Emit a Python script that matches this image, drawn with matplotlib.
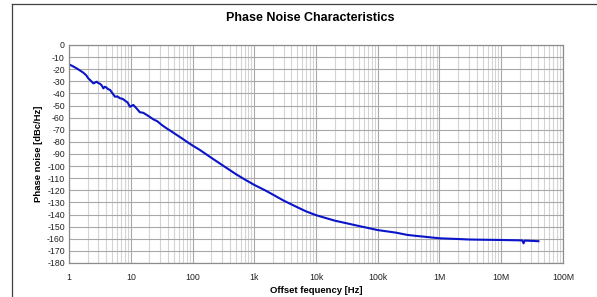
import numpy as np
import matplotlib
matplotlib.use("Agg")
import matplotlib.pyplot as plt
from matplotlib.lines import Line2D
from matplotlib.ticker import FixedLocator, LogLocator, NullFormatter

plt.rcParams['font.family'] = ['Liberation Sans', 'DejaVu Sans']

# offset frequency [Hz] and phase noise [dBc/Hz]
freq = [1, 1.15, 1.33, 1.5, 1.7, 1.9, 2.05, 2.25, 2.48, 2.65, 2.8, 3.0, 3.18, 3.4,
        3.6, 3.8, 4.0, 4.3, 4.6, 5.0, 5.55, 6.1, 6.7, 7.4, 8.1, 8.9, 9.7, 11, 12.5,
        14, 16, 18.2, 20.5, 23.2, 27, 31.7, 38, 46, 55.6, 67, 80.6, 100, 132,
        200, 300, 500, 700, 1e3, 1.5e3, 2e3, 3e3, 5e3, 7e3, 1e4, 2e4, 5e4, 1e5,
        2e5, 3e5, 4.5e5, 5e5, 1e6, 2e6, 3e6, 5e6, 1e7, 2e7, 2.2e7, 2.3e7, 2.4e7,
        3e7, 4e7]
noise = [-16, -17.5, -19.3, -21, -22.8, -25, -27.5, -29.5, -31.7, -31, -30.3, -31.5,
         -32, -33.5, -35.8, -34.5, -35, -36.5, -37, -39.5, -42.7, -42.5, -44, -44.5,
         -46, -47.5, -51, -49.5, -52.5, -55.5, -56, -57.8, -59.5, -61.4, -63, -66,
         -68.8, -71.5, -74.3, -77, -79.8, -83, -86.7,
         -93, -99, -106.5, -111, -115.5, -120, -123.5, -128.5, -134, -137.5, -140.5,
         -145, -149.5, -152.8, -155, -156.8, -157.8, -158, -159.6, -160.2, -160.6,
         -160.8, -161, -161.3, -161.4, -163.8, -161.5, -161.7, -162]

ytick_vals = list(range(0, -190, -10))
xtick_vals = [1, 10, 100, 1e3, 1e4, 1e5, 1e6, 1e7, 1e8]
xtick_labels = ['1', '10', '100', '1k', '10k', '100k', '1M', '10M', '100M']

fig = plt.figure(figsize=(5.97, 2.97), dpi=100)
ax = fig.add_axes([0.1156, 0.1145, 0.8274, 0.734])

ax.plot(freq, noise, color='#0a14c8', linewidth=1.5, solid_joinstyle='round')

ax.set_xscale('log')
ax.set_xlim(1, 1e8)
ax.set_ylim(-180, 0)
ax.xaxis.set_major_locator(FixedLocator(xtick_vals))
ax.set_xticklabels(xtick_labels)
ax.xaxis.set_minor_locator(LogLocator(base=10, subs=np.arange(2, 10), numticks=20))
ax.xaxis.set_minor_formatter(NullFormatter())
ax.set_yticks(ytick_vals)
ax.set_yticklabels([str(v) for v in ytick_vals])

ax.grid(which='major', axis='both', color='#a8a8a8', linewidth=0.8)
ax.grid(which='minor', axis='x', color='#d4d4d4', linewidth=0.8)
ax.set_axisbelow(True)
ax.tick_params(which='both', length=0, labelsize=6.3, colors='#222222')
ax.tick_params(axis='x', pad=7)
ax.tick_params(axis='y', pad=3)
for s in ax.spines.values():
    s.set_color('#8c8c8c')
    s.set_linewidth(0.9)

ax.set_xlabel('Offset fequency [Hz]', fontsize=6.8, fontweight='bold', labelpad=3)
ax.set_ylabel('Phase noise [dBc/Hz]', fontsize=6.8, fontweight='bold', labelpad=3)
fig.text(0.52, 0.94, 'Phase Noise Characteristics', ha='center', va='center',
         fontsize=9, fontweight='bold')

# outer frame lines (left and top)
fig.add_artist(Line2D([12/597, 12/597], [0, 1 - 4/297], color='#404040', linewidth=0.9))
fig.add_artist(Line2D([12/597, 1], [1 - 4/297, 1 - 4/297], color='#404040', linewidth=0.9))

fig.savefig('out.png', dpi=100)
